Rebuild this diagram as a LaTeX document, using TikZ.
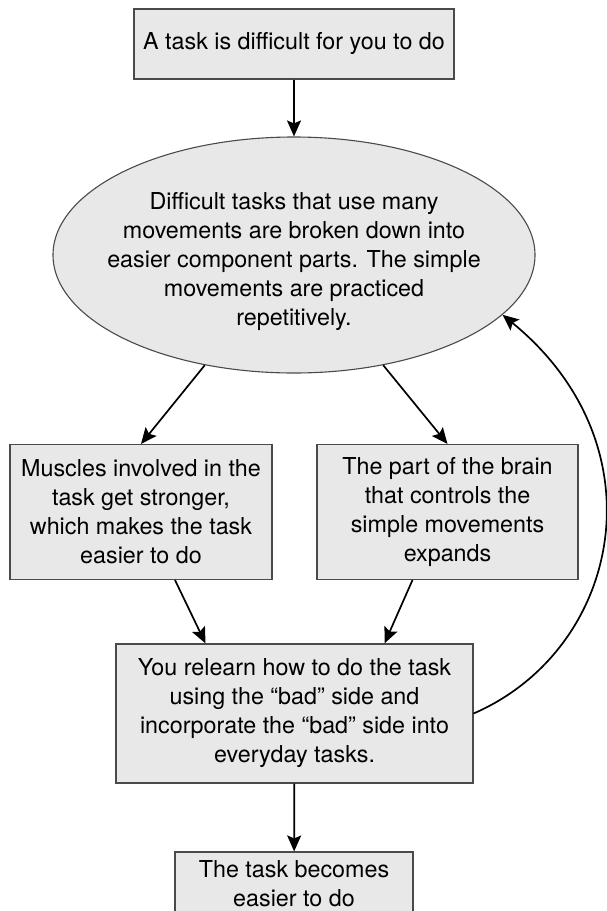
\documentclass[tikz,border=0pt]{standalone}
\usepackage{fontspec}
\setmainfont{TeX Gyre Heros}
\usepackage{xcolor}
\usetikzlibrary{shapes,arrows,positioning,calc,arrows.meta}

\definecolor{boxfill}{HTML}{E8E8E8}
\definecolor{boxline}{HTML}{4A4A4A}

\tikzset{
    stepbox/.style={draw=boxline, fill=boxfill, line width=1.1pt, align=center,
        inner sep=0pt, font=\fontsize{23.3}{29}\selectfont},
    bubble/.style={ellipse, draw=boxline, fill=boxfill, line width=1.1pt, align=center,
        inner xsep=-60pt, inner ysep=-40pt, font=\fontsize{23.3}{29}\selectfont},
    flow/.style={-{Stealth[length=16pt,width=14pt,inset=3pt]}, line width=1.7pt}
}

\begin{document}
\begin{tikzpicture}[x=1pt,y=-1pt]
    \useasboundingbox (0,0) rectangle (606,911);

    % Start
    \node[stepbox, minimum width=320, minimum height=70] (start) at (294,44)
        {A task is difficult for you to do};

    % Breaking the task down
    \node[bubble, minimum width=482, minimum height=236] (ell) at (294,255)
        {\rule{0pt}{31pt}Difficult tasks that use many\\ movements are broken down into\\
         easier component parts. The simple\\ movements are practiced\\ repetitively.};

    % Two effects
    \node[stepbox, minimum width=262, minimum height=135] (lbox) at (141,512)
        {Muscles involved in the\\ task get stronger,\\ which makes the task\\ easier to do};
    \node[stepbox, minimum width=261, minimum height=135] (rbox) at (447.5,512)
        {The part of the brain\\ that controls the\\ simple movements\\ expands};

    % Relearning
    \node[stepbox, minimum width=357, minimum height=139] (rel) at (294.5,713.5)
        {You relearn how to do the task\\ using the “bad” side and\\
         incorporate the “bad” side into\\ everyday tasks.};

    % Result
    \node[stepbox, minimum width=238, minimum height=100] (done) at (294,902)
        {The task becomes\\ easier to do\\ \strut};

    % Arrows
    \draw[flow] (start) -- (ell);
    \draw[flow] (ell.231) -- (lbox.north);
    \draw[flow] (ell.309) -- (rbox.north);
    \draw[flow] ([xshift=34pt]lbox.south) -- ([xshift=-89pt]rel.north);
    \draw[flow] ([xshift=-35pt]rbox.south) -- ([xshift=90pt]rel.north);
    \draw[flow] (rel) -- (done);

    % Feedback loop
    \draw[flow] (rel.east) .. controls (620,650) and (664,447) .. (ell.344);
\end{tikzpicture}
\end{document}
